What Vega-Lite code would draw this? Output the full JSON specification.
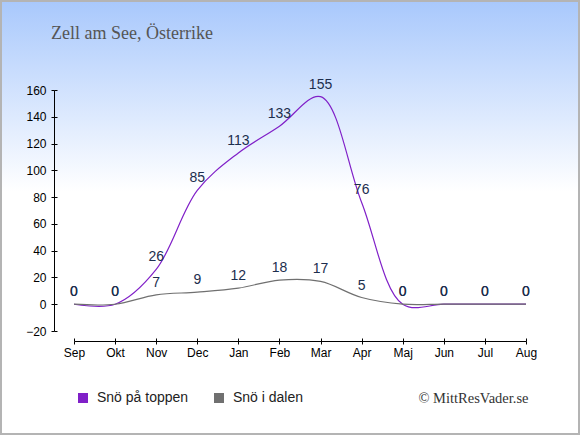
{
  "$schema": "https://vega.github.io/schema/vega-lite/v6.json",
  "width": 580,
  "height": 435,
  "autosize": "none",
  "padding": 0,
  "background": "#ffffff",
  "view": {
    "fill": {
      "gradient": "linear",
      "x1": 0, "y1": 0, "x2": 0, "y2": 1,
      "stops": [
        {"offset": 0, "color": "#a8c8fc"},
        {"offset": 0.44, "color": "#ffffff"},
        {"offset": 1, "color": "#ffffff"}
      ]
    },
    "stroke": "#b4b4b4",
    "strokeWidth": 4
  },
  "title": {
    "text": "Zell am See, Österrike",
    "anchor": "start",
    "frame": "group",
    "orient": "top",
    "offset": 0,
    "baseline": "alphabetic",
    "dx": 51,
    "dy": 57,
    "font": "Liberation Serif",
    "fontSize": 18,
    "fontWeight": "normal",
    "color": "#555555"
  },
  "data": {
    "values": [
      {"month": "Sep", "series": "Snö på toppen", "snow": 0},
      {"month": "Okt", "series": "Snö på toppen", "snow": 0},
      {"month": "Nov", "series": "Snö på toppen", "snow": 26},
      {"month": "Dec", "series": "Snö på toppen", "snow": 85},
      {"month": "Jan", "series": "Snö på toppen", "snow": 113},
      {"month": "Feb", "series": "Snö på toppen", "snow": 133},
      {"month": "Mar", "series": "Snö på toppen", "snow": 155},
      {"month": "Apr", "series": "Snö på toppen", "snow": 76},
      {"month": "Maj", "series": "Snö på toppen", "snow": 0},
      {"month": "Jun", "series": "Snö på toppen", "snow": 0},
      {"month": "Jul", "series": "Snö på toppen", "snow": 0},
      {"month": "Aug", "series": "Snö på toppen", "snow": 0},
      {"month": "Sep", "series": "Snö i dalen", "snow": 0},
      {"month": "Okt", "series": "Snö i dalen", "snow": 0},
      {"month": "Nov", "series": "Snö i dalen", "snow": 7},
      {"month": "Dec", "series": "Snö i dalen", "snow": 9},
      {"month": "Jan", "series": "Snö i dalen", "snow": 12},
      {"month": "Feb", "series": "Snö i dalen", "snow": 18},
      {"month": "Mar", "series": "Snö i dalen", "snow": 17},
      {"month": "Apr", "series": "Snö i dalen", "snow": 5},
      {"month": "Maj", "series": "Snö i dalen", "snow": 0},
      {"month": "Jun", "series": "Snö i dalen", "snow": 0},
      {"month": "Jul", "series": "Snö i dalen", "snow": 0},
      {"month": "Aug", "series": "Snö i dalen", "snow": 0}
    ]
  },
  "layer": [
    {
      "mark": {"type": "line", "interpolate": "catmull-rom", "strokeWidth": 1.2},
      "encoding": {
        "x": {
          "field": "month",
          "type": "ordinal",
          "sort": null,
          "scale": {"type": "point", "range": [74, 526], "padding": 0},
          "axis": {
            "orient": "bottom",
            "offset": -94,
            "tickSize": 3,
            "labelPadding": 3,
            "labelAngle": 0,
            "grid": false,
            "title": "© MittResVader.se",
            "titleX": 528,
            "titleY": 61,
            "titleAlign": "right",
            "titleBaseline": "alphabetic",
            "titleFont": "Liberation Serif",
            "titleFontSize": 14.5,
            "titleFontWeight": "normal",
            "titleColor": "#333333"
          }
        },
        "y": {
          "field": "snow",
          "type": "quantitative",
          "scale": {"domain": [-20, 160], "range": [331, 90], "nice": false, "zero": false},
          "axis": {
            "orient": "left",
            "offset": -54,
            "values": [-20, 0, 20, 40, 60, 80, 100, 120, 140, 160],
            "tickSize": 3,
            "labelPadding": 5,
            "grid": false,
            "title": null
          }
        },
        "color": {
          "field": "series",
          "type": "nominal",
          "scale": {"domain": ["Snö på toppen", "Snö i dalen"], "range": ["#8020c8", "#707070"]},
          "legend": {
            "title": null,
            "orient": "none",
            "legendX": 76,
            "legendY": 391,
            "direction": "horizontal",
            "padding": 0,
            "symbolType": "square",
            "symbolSize": 100,
            "symbolStrokeWidth": 0,
            "labelOffset": 7,
            "columnPadding": 23,
            "labelFont": "Liberation Sans",
            "labelFontSize": 14,
            "labelColor": "#222222",
            "encode": {
              "symbols": {
                "update": {
                  "fill": {"scale": "color", "field": "value"},
                  "fillOpacity": {"value": 1},
                  "strokeWidth": {"value": 0}
                }
              }
            }
          }
        }
      }
    },
    {
      "mark": {
        "type": "text",
        "dy": -8,
        "baseline": "alphabetic",
        "font": "Liberation Sans",
        "fontSize": 14,
        "color": "#1c2e4e"
      },
      "encoding": {
        "x": {
          "field": "month",
          "type": "ordinal",
          "sort": null,
          "axis": {
            "orient": "bottom",
            "offset": -94,
            "tickSize": -3,
            "labels": false,
            "domain": false,
            "grid": false,
            "title": null
          }
        },
        "y": {
          "field": "snow",
          "type": "quantitative",
          "axis": {
            "orient": "left",
            "offset": -54,
            "values": [-20, 0, 20, 40, 60, 80, 100, 120, 140, 160],
            "tickSize": -3,
            "labels": false,
            "domain": false,
            "grid": false,
            "title": null
          }
        },
        "text": {"field": "snow", "type": "quantitative"}
      }
    }
  ],
  "resolve": {"axis": {"x": "independent", "y": "independent"}},
  "config": {
    "axis": {
      "domainColor": "#000000",
      "tickColor": "#000000",
      "labelColor": "#000000",
      "labelFont": "Liberation Sans",
      "labelFontSize": 12,
      "domainWidth": 1,
      "tickWidth": 1
    }
  }
}
